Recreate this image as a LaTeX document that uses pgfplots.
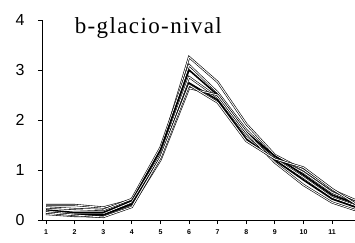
\documentclass[border=0pt]{standalone}
\usepackage{pgfplots}
\pgfplotsset{compat=1.18}
\usepackage{fontspec}
\setmainfont{Liberation Serif}
\newfontfamily\arial{Liberation Sans}
\newfontfamily\titlefont[LetterSpace=6]{Liberation Serif}
\begin{document}
\begin{tikzpicture}
\begin{axis}[
  at={(42bp,23bp)}, anchor=south west,
  scale only axis, width=313bp, height=200bp,
  xmin=0.86, xmax=11.8, ymin=0, ymax=4,
  axis lines=left, axis line style={-, line width=1pt},
  xtick={1,...,11}, ytick={0,1,2,3,4},
  tick align=outside, major tick length=4bp,
  tick style={line width=1pt, black},
  /pgf/number format/assume math mode=true,
  yticklabel style={font=\arial\fontsize{16bp}{16bp}\selectfont, xshift=-10bp},
  xticklabel style={font=\arial\bfseries\fontsize{7bp}{7bp}\selectfont, yshift=-2bp},
  clip=false,
  every axis plot/.append style={no marks},
  dbl/.style={draw=black, line width=0.6pt, double=white, double distance=0.9pt},
  sgl/.style={draw=black, line width=1.6pt},
]
\addplot[dbl] coordinates {(1,0.30)(2,0.30)(3,0.25)(4,0.40)(5,1.35)(6,3.26)(7,2.76)(8,1.92)(9,1.30)(10,1.00)(11,0.60)(11.8,0.40)};
\addplot[dbl] coordinates {(1,0.25)(2,0.22)(3,0.20)(4,0.42)(5,1.45)(6,3.10)(7,2.55)(8,1.80)(9,1.25)(10,0.95)(11,0.55)(11.8,0.36)};
\addplot[sgl] coordinates {(1,0.20)(2,0.15)(3,0.15)(4,0.38)(5,1.40)(6,3.00)(7,2.50)(8,1.75)(9,1.28)(10,0.90)(11,0.50)(11.8,0.33)};
\addplot[dbl] coordinates {(1,0.18)(2,0.12)(3,0.12)(4,0.36)(5,1.30)(6,2.86)(7,2.45)(8,1.70)(9,1.22)(10,0.85)(11,0.45)(11.8,0.29)};
\addplot[sgl] coordinates {(1,0.15)(2,0.10)(3,0.10)(4,0.32)(5,1.25)(6,2.74)(7,2.40)(8,1.62)(9,1.20)(10,0.80)(11,0.42)(11.8,0.26)};
\addplot[dbl] coordinates {(1,0.12)(2,0.08)(3,0.07)(4,0.28)(5,1.20)(6,2.64)(7,2.50)(8,1.75)(9,1.15)(10,0.70)(11,0.35)(11.8,0.20)};
\addplot[dbl] coordinates {(1,0.15)(2,0.10)(3,0.06)(4,0.26)(5,1.25)(6,2.70)(7,2.35)(8,1.58)(9,1.22)(10,1.05)(11,0.62)(11.8,0.33)};
\node[anchor=base west, font=\titlefont\fontsize{23bp}{23bp}\selectfont, inner sep=0pt] at (axis cs:2.0,3.73) {b-glacio-nival};
\end{axis}
\pgfresetboundingbox
\path[use as bounding box] (0,0) rectangle (355bp,243bp);
\end{tikzpicture}
\end{document}
